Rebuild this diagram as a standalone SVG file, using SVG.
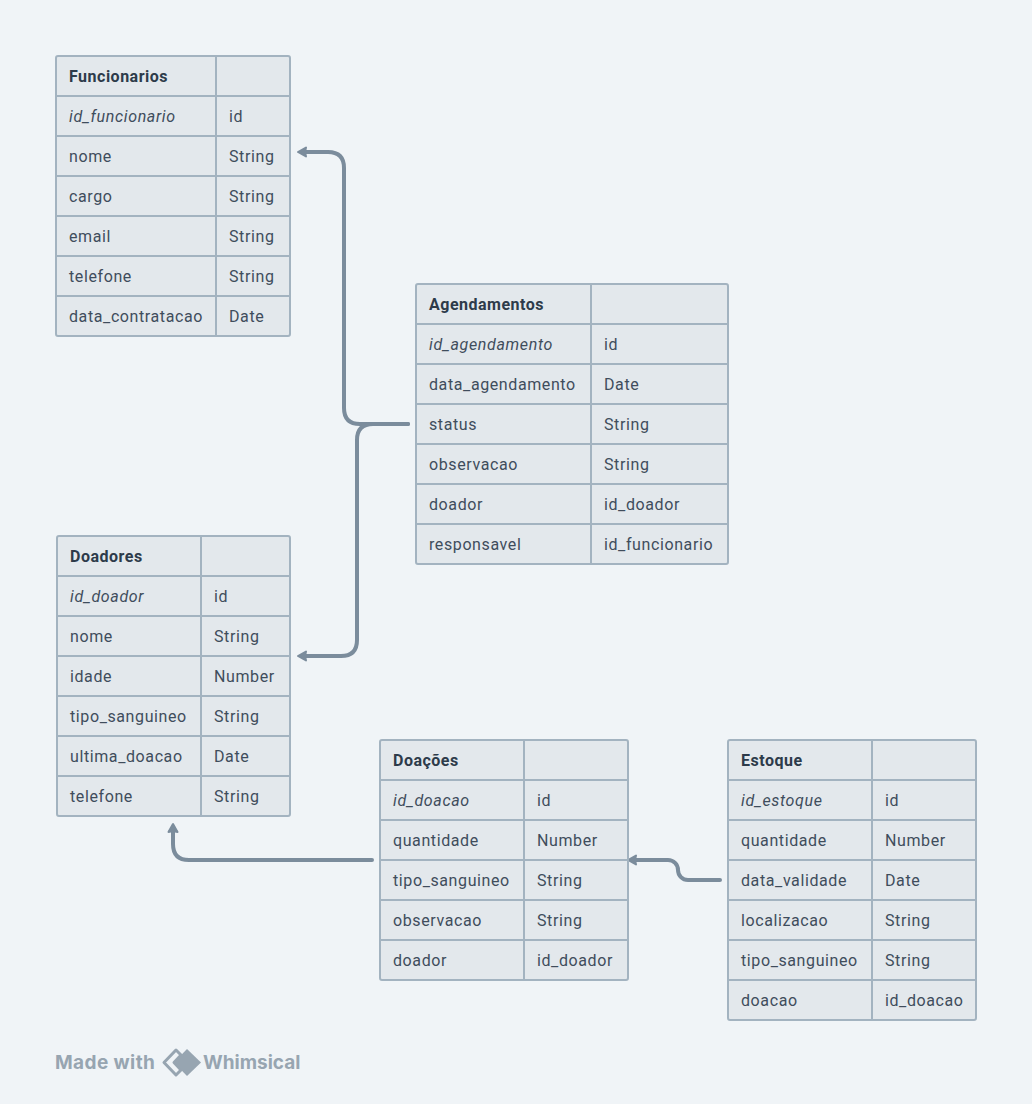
<svg xmlns="http://www.w3.org/2000/svg" width="1032" height="1104" viewBox="0 0 1032 1104">
<style>
text{font-family:Roboto,"Liberation Sans",sans-serif;font-size:16px;fill:#3f4d5c;letter-spacing:.6px}
.h{font-weight:700;fill:#2d3b4a;letter-spacing:.5px}
.k{font-style:italic;letter-spacing:.65px}
.f{fill:#e3e8ec;stroke:#a3b3c0;stroke-width:2}
.l{fill:none;stroke:#a3b3c0;stroke-width:2}
.c{fill:none;stroke:#7b8c9c;stroke-width:4;stroke-linecap:round;stroke-linejoin:round}
.a{fill:#7b8c9c;stroke:#7b8c9c;stroke-width:2;stroke-linejoin:round}
.m{font-family:Inter,sans-serif;font-weight:700;font-size:19px;fill:#97a5b1;letter-spacing:.4px}
.w{letter-spacing:0}
</style>
<rect width="1032" height="1104" fill="#f0f4f7"/>
<g id="connectors">
<path class="c" d="M408 424H360Q344 424 344 408V168Q344 152 328 152H304"/>
<path class="c" d="M408 424H373Q357 424 357 440V640Q357 656 341 656H304"/>
<path class="c" d="M372 860H189Q173 860 173 844V830"/>
<path class="c" d="M720 880H688A10 10 0 0 1 678 870A10 10 0 0 0 668 860H634"/>
<path class="a" d="M298 152L306 147.500L305 152L306 156.500Z"/>
<path class="a" d="M298 656L306 651.500L305 656L306 660.500Z"/>
<path class="a" d="M173 824L168.500 832L173 831L177.500 832Z"/>
<path class="a" d="M628 860L636 855.500L635 860L636 864.500Z"/>
</g>
<g id="funcionarios">
<rect class="f" x="56" y="56" width="234" height="280" rx="2"/>
<path class="l" d="M216 56V336M56 96H290M56 136H290M56 176H290M56 216H290M56 256H290M56 296H290"/>
<text class="h" x="69" y="82">Funcionarios</text>
<text class="k" x="69" y="122">id_funcionario</text><text x="229" y="122">id</text>
<text x="69" y="162">nome</text><text x="229" y="162">String</text>
<text x="69" y="202">cargo</text><text x="229" y="202">String</text>
<text x="69" y="242">email</text><text x="229" y="242">String</text>
<text x="69" y="282">telefone</text><text x="229" y="282">String</text>
<text x="69" y="322">data_contratacao</text><text x="229" y="322">Date</text>
</g>
<g id="agendamentos">
<rect class="f" x="416" y="284" width="312" height="280" rx="2"/>
<path class="l" d="M591 284V564M416 324H728M416 364H728M416 404H728M416 444H728M416 484H728M416 524H728"/>
<text class="h" x="429" y="310">Agendamentos</text>
<text class="k" x="429" y="350">id_agendamento</text><text x="604" y="350">id</text>
<text x="429" y="390">data_agendamento</text><text x="604" y="390">Date</text>
<text x="429" y="430">status</text><text x="604" y="430">String</text>
<text x="429" y="470">observacao</text><text x="604" y="470">String</text>
<text x="429" y="510">doador</text><text x="604" y="510">id_doador</text>
<text x="429" y="550">responsavel</text><text x="604" y="550">id_funcionario</text>
</g>
<g id="doadores">
<rect class="f" x="57" y="536" width="233" height="280" rx="2"/>
<path class="l" d="M201 536V816M57 576H290M57 616H290M57 656H290M57 696H290M57 736H290M57 776H290"/>
<text class="h" x="70" y="562">Doadores</text>
<text class="k" x="70" y="602">id_doador</text><text x="214" y="602">id</text>
<text x="70" y="642">nome</text><text x="214" y="642">String</text>
<text x="70" y="682">idade</text><text x="214" y="682">Number</text>
<text x="70" y="722">tipo_sanguineo</text><text x="214" y="722">String</text>
<text x="70" y="762">ultima_doacao</text><text x="214" y="762">Date</text>
<text x="70" y="802">telefone</text><text x="214" y="802">String</text>
</g>
<g id="doacoes">
<rect class="f" x="380" y="740" width="248" height="240" rx="2"/>
<path class="l" d="M524 740V980M380 780H628M380 820H628M380 860H628M380 900H628M380 940H628"/>
<text class="h" x="393" y="766">Doações</text>
<text class="k" x="393" y="806">id_doacao</text><text x="537" y="806">id</text>
<text x="393" y="846">quantidade</text><text x="537" y="846">Number</text>
<text x="393" y="886">tipo_sanguineo</text><text x="537" y="886">String</text>
<text x="393" y="926">observacao</text><text x="537" y="926">String</text>
<text x="393" y="966">doador</text><text x="537" y="966">id_doador</text>
</g>
<g id="estoque">
<rect class="f" x="728" y="740" width="248" height="280" rx="2"/>
<path class="l" d="M872 740V1020M728 780H976M728 820H976M728 860H976M728 900H976M728 940H976M728 980H976"/>
<text class="h" x="741" y="766">Estoque</text>
<text class="k" x="741" y="806">id_estoque</text><text x="885" y="806">id</text>
<text x="741" y="846">quantidade</text><text x="885" y="846">Number</text>
<text x="741" y="886">data_validade</text><text x="885" y="886">Date</text>
<text x="741" y="926">localizacao</text><text x="885" y="926">String</text>
<text x="741" y="966">tipo_sanguineo</text><text x="885" y="966">String</text>
<text x="741" y="1006">doacao</text><text x="885" y="1006">id_doacao</text>
</g>
<g id="watermark">
<text class="m" x="55" y="1069">Made with</text>
<path d="M176 1050L164 1062.500L176 1075L181 1070L174 1062.500L181 1055Z" fill="none" stroke="#97a5b1" stroke-width="3" stroke-linejoin="round"/>
<path d="M187 1049L201 1062.500L187 1076L174 1062.500Z" fill="#97a5b1"/>
<text class="m w" x="203" y="1069">Whimsical</text>
</g>
</svg>
